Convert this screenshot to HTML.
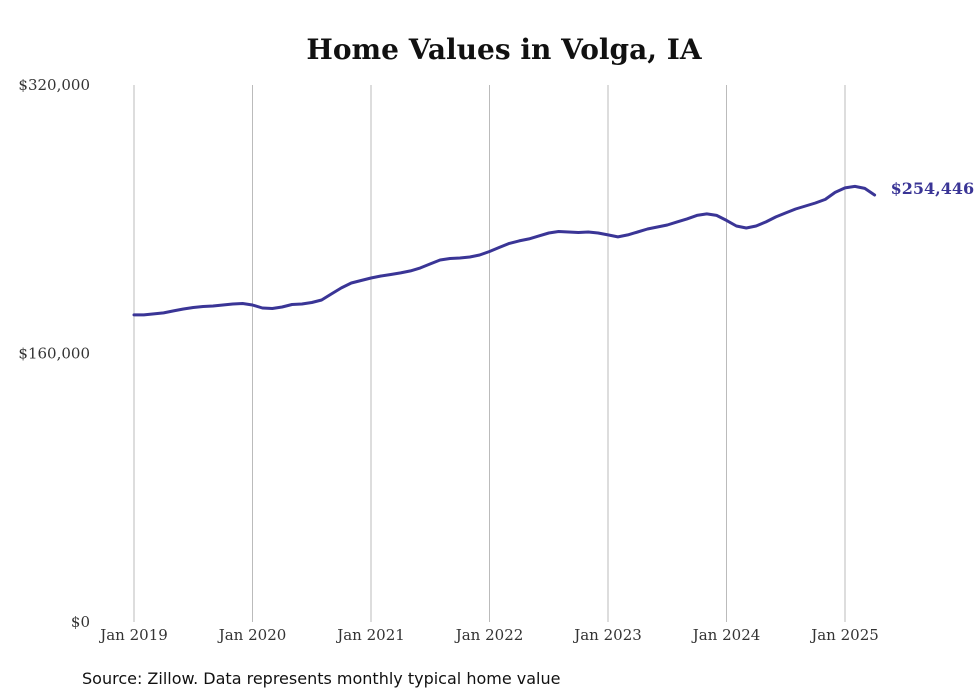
<!DOCTYPE html>
<html><head><meta charset="utf-8"><style>
html,body{margin:0;padding:0;background:#fff;}
svg{display:block;font-family:"DejaVu Serif","Liberation Serif",serif;}
</style></head><body>
<svg id="chart" width="980" height="699" viewBox="0 0 980 699" xmlns="http://www.w3.org/2000/svg">
<rect width="980" height="699" fill="#fff"/>
<text x="504" y="59" text-anchor="middle" font-size="28" font-weight="bold" fill="#111">Home Values in Volga, IA</text>
<g id="grid"></g><g id="yaxis"></g><g id="xaxis"></g><g id="series"></g>
<text x="82" y="684" font-size="16" fill="#111" font-family="'DejaVu Sans','Liberation Sans',sans-serif">Source: Zillow. Data represents monthly typical home value</text>
</svg>
<script>
const xTickLabels = ["Jan 2019","Jan 2020","Jan 2021","Jan 2022","Jan 2023","Jan 2024","Jan 2025"];
const yTickValues = [0,160000,320000];
const yTickLabels = ["$0","$160,000","$320,000"];
const homeValues = [183000,183000,183600,184200,185400,186500,187400,188000,188300,188900,189500,189800,
188900,187100,186800,187700,189200,189500,190400,191900,195500,199100,202000,203500,
205000,206200,207100,208000,209200,211000,213400,215700,216600,216900,217500,218700,
220800,223200,225600,227100,228300,230100,231800,232700,232400,232100,232400,231800,
230700,229500,230700,232400,234200,235400,236600,238400,240200,242300,243200,242300,
239300,236000,234800,236000,238400,241400,243800,246100,247900,249700,251800,256000,
258700,259600,258400,254446];
const lastLabel = "$254,446";
const NS="http://www.w3.org/2000/svg";
const x0=134, yearW=118.5, yBase=622, yTop=85, yMax=320000;
const xScale = i => x0 + i*yearW/12;
const yScale = v => yBase - v/yMax*(yBase-yTop);
function mk(tag, attrs, parent, text){const e=document.createElementNS(NS,tag);for(const k in attrs)e.setAttribute(k,attrs[k]);if(text!==undefined)e.textContent=text;document.getElementById(parent).appendChild(e);return e;}
xTickLabels.forEach((l,i)=>{
  const x=xScale(i*12);
  const g=mk('line',{x1:x,x2:x,y1:yTop,y2:yBase,stroke:'#bbb','stroke-width':1},'grid');
  
  
  const t=mk('text',{x:x,y:640,'text-anchor':'middle','font-size':15,fill:'#333'},'xaxis',l);
  
  
});
yTickValues.forEach((v,i)=>{
  const t=mk('text',{x:90,y:yScale(v)+5,'text-anchor':'end','font-size':15,fill:'#333'},'yaxis',yTickLabels[i]);
  
  
});
const d=homeValues.map((v,i)=>(i?'L':'M')+xScale(i).toFixed(1)+','+yScale(v).toFixed(1)).join(' ');
const p=mk('path',{d:d,fill:'none',stroke:'#3a3596','stroke-width':3,'stroke-linejoin':'round','stroke-linecap':'round'},'series');


const n=homeValues.length-1;
const lbl=mk('text',{x:xScale(n)+16,y:yScale(homeValues[n])-1,'font-size':16,'font-weight':'bold',fill:'#3a3596'},'series',lastLabel);


</script>
</body></html>
